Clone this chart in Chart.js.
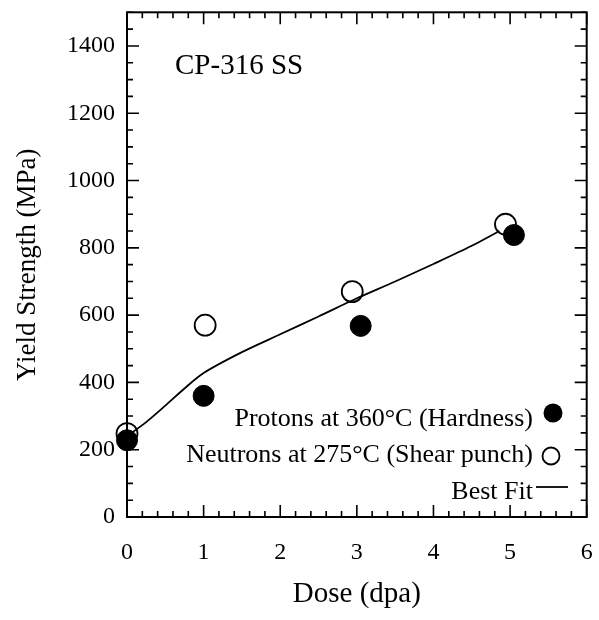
<!DOCTYPE html>
<html>
<head>
<meta charset="utf-8">
<script src="https://cdn.jsdelivr.net/npm/chart.js@4"></script>
<style>
  html, body { margin: 0; padding: 0; background: #fff; }
  #wrap { width: 599px; height: 620px; }
</style>
</head>
<body>
<div id="wrap"><canvas id="chart" width="599" height="620"></canvas></div>
<script>
// ============================================================
// DATA
// ============================================================
const protonDose = [0, 1, 3.05, 5.05];
const protonYield = [228, 360, 568, 838];

const neutronDose = [0, 1.02, 2.94, 4.94];
const neutronYield = [248, 570, 670, 870];

const fitDose = [0, 0.25, 0.5, 0.75, 1, 1.5, 2, 2.5, 3, 3.5, 4, 4.5, 4.86];
const fitYield = [240, 282, 331, 382, 428, 490, 543, 596, 650, 700, 752, 806, 850];

const xTicks = [0, 1, 2, 3, 4, 5, 6];
const yTicks = [0, 200, 400, 600, 800, 1000, 1200, 1400];

const legendLabels = ['Protons at 360°C (Hardness)', 'Neutrons at 275°C (Shear punch)', 'Best Fit'];

const serif = '"Liberation Serif", "Times New Roman", serif';

const toPoints = (xs, ys) => xs.map((x, i) => ({ x: x, y: ys[i] }));

// ============================================================
// PLUGIN: frame, inward ticks, tick labels, sample label, legend
// ============================================================
const framePlugin = {
    id: 'frame',
    afterDraw(chart) {
        const ctx = chart.ctx;
        const area = chart.chartArea;
        const xs = chart.scales.x;
        const ys = chart.scales.y;

        ctx.save();
        ctx.strokeStyle = '#000';
        ctx.fillStyle = '#000';
        ctx.lineWidth = 2;
        ctx.strokeRect(area.left, area.top, area.right - area.left, area.bottom - area.top);

        ctx.lineWidth = 1.6;
        ctx.beginPath();
        // x ticks every 0.2, long at integers
        for (let i = 0; i <= 30; i++) {
            const px = xs.getPixelForValue(i * 0.2);
            const len = (i % 5 === 0) ? 12 : 6;
            ctx.moveTo(px, area.bottom);
            ctx.lineTo(px, area.bottom - len);
            ctx.moveTo(px, area.top);
            ctx.lineTo(px, area.top + len);
        }
        // y ticks every 50, long at every 200
        for (let i = 0; i <= 30; i++) {
            const py = ys.getPixelForValue(i * 50);
            const len = (i % 4 === 0) ? 12 : 6;
            ctx.moveTo(area.left, py);
            ctx.lineTo(area.left + len, py);
            ctx.moveTo(area.right, py);
            ctx.lineTo(area.right - len, py);
        }
        ctx.stroke();

        // Tick labels
        ctx.font = '24px ' + serif;
        ctx.textBaseline = 'middle';
        ctx.textAlign = 'center';
        xTicks.forEach(v => ctx.fillText(String(v), xs.getPixelForValue(v), 553));
        ctx.textAlign = 'right';
        yTicks.forEach(v => ctx.fillText(String(v), area.left - 12, ys.getPixelForValue(v)));

        // Sample label
        ctx.font = '29px ' + serif;
        ctx.textAlign = 'left';
        ctx.fillText('CP-316 SS', 175, 66);

        // Legend
        ctx.font = '26px ' + serif;
        ctx.textAlign = 'right';
        ctx.textBaseline = 'alphabetic';
        const rows = [426, 462, 499];
        legendLabels.forEach((label, i) => ctx.fillText(label, 533, rows[i]));
        ctx.beginPath();
        ctx.arc(553, 413, 9.5, 0, Math.PI * 2);
        ctx.fill();
        ctx.lineWidth = 1.8;
        ctx.beginPath();
        ctx.arc(551, 456, 8.5, 0, Math.PI * 2);
        ctx.stroke();
        ctx.beginPath();
        ctx.moveTo(536, 487);
        ctx.lineTo(568, 487);
        ctx.stroke();
        ctx.restore();
    }
};

// ============================================================
// CHART
// ============================================================
new Chart(document.getElementById('chart'), {
    type: 'scatter',
    data: {
        datasets: [
            {
                type: 'line',
                label: 'Best Fit',
                data: toPoints(fitDose, fitYield),
                borderColor: '#000',
                borderWidth: 1.8,
                pointRadius: 0,
                tension: 0.3,
                fill: false,
                order: 3
            },
            {
                label: 'Neutrons at 275°C (Shear punch)',
                data: toPoints(neutronDose, neutronYield),
                backgroundColor: 'rgba(255,255,255,0)',
                borderColor: '#000',
                borderWidth: 1.8,
                pointRadius: 10.5,
                order: 2
            },
            {
                label: 'Protons at 360°C (Hardness)',
                data: toPoints(protonDose, protonYield),
                backgroundColor: '#000',
                borderColor: '#000',
                borderWidth: 1,
                pointRadius: 10.5,
                order: 1
            }
        ]
    },
    options: {
        responsive: false,
        animation: false,
        clip: false,
        layout: { padding: { top: 6, right: 11, left: 0, bottom: 0 } },
        plugins: {
            legend: { display: false },
            tooltip: { enabled: false }
        },
        scales: {
            x: {
                type: 'linear',
                min: 0,
                max: 6,
                afterFit: (s) => { s.height = 103; },
                grid: { display: false },
                border: { display: false },
                ticks: { display: false },
                title: {
                    display: true,
                    text: 'Dose (dpa)',
                    color: '#000',
                    font: { family: serif, size: 29 },
                    padding: { top: 4, bottom: 8 }
                }
            },
            y: {
                type: 'linear',
                min: 0,
                max: 1500,
                afterFit: (s) => { s.width = 127; },
                grid: { display: false },
                border: { display: false },
                ticks: { display: false },
                title: {
                    display: true,
                    text: 'Yield Strength (MPa)',
                    color: '#000',
                    font: { family: serif, size: 27 },
                    padding: { top: 12, bottom: 0 }
                }
            }
        }
    },
    plugins: [framePlugin]
});
</script>
</body>
</html>
